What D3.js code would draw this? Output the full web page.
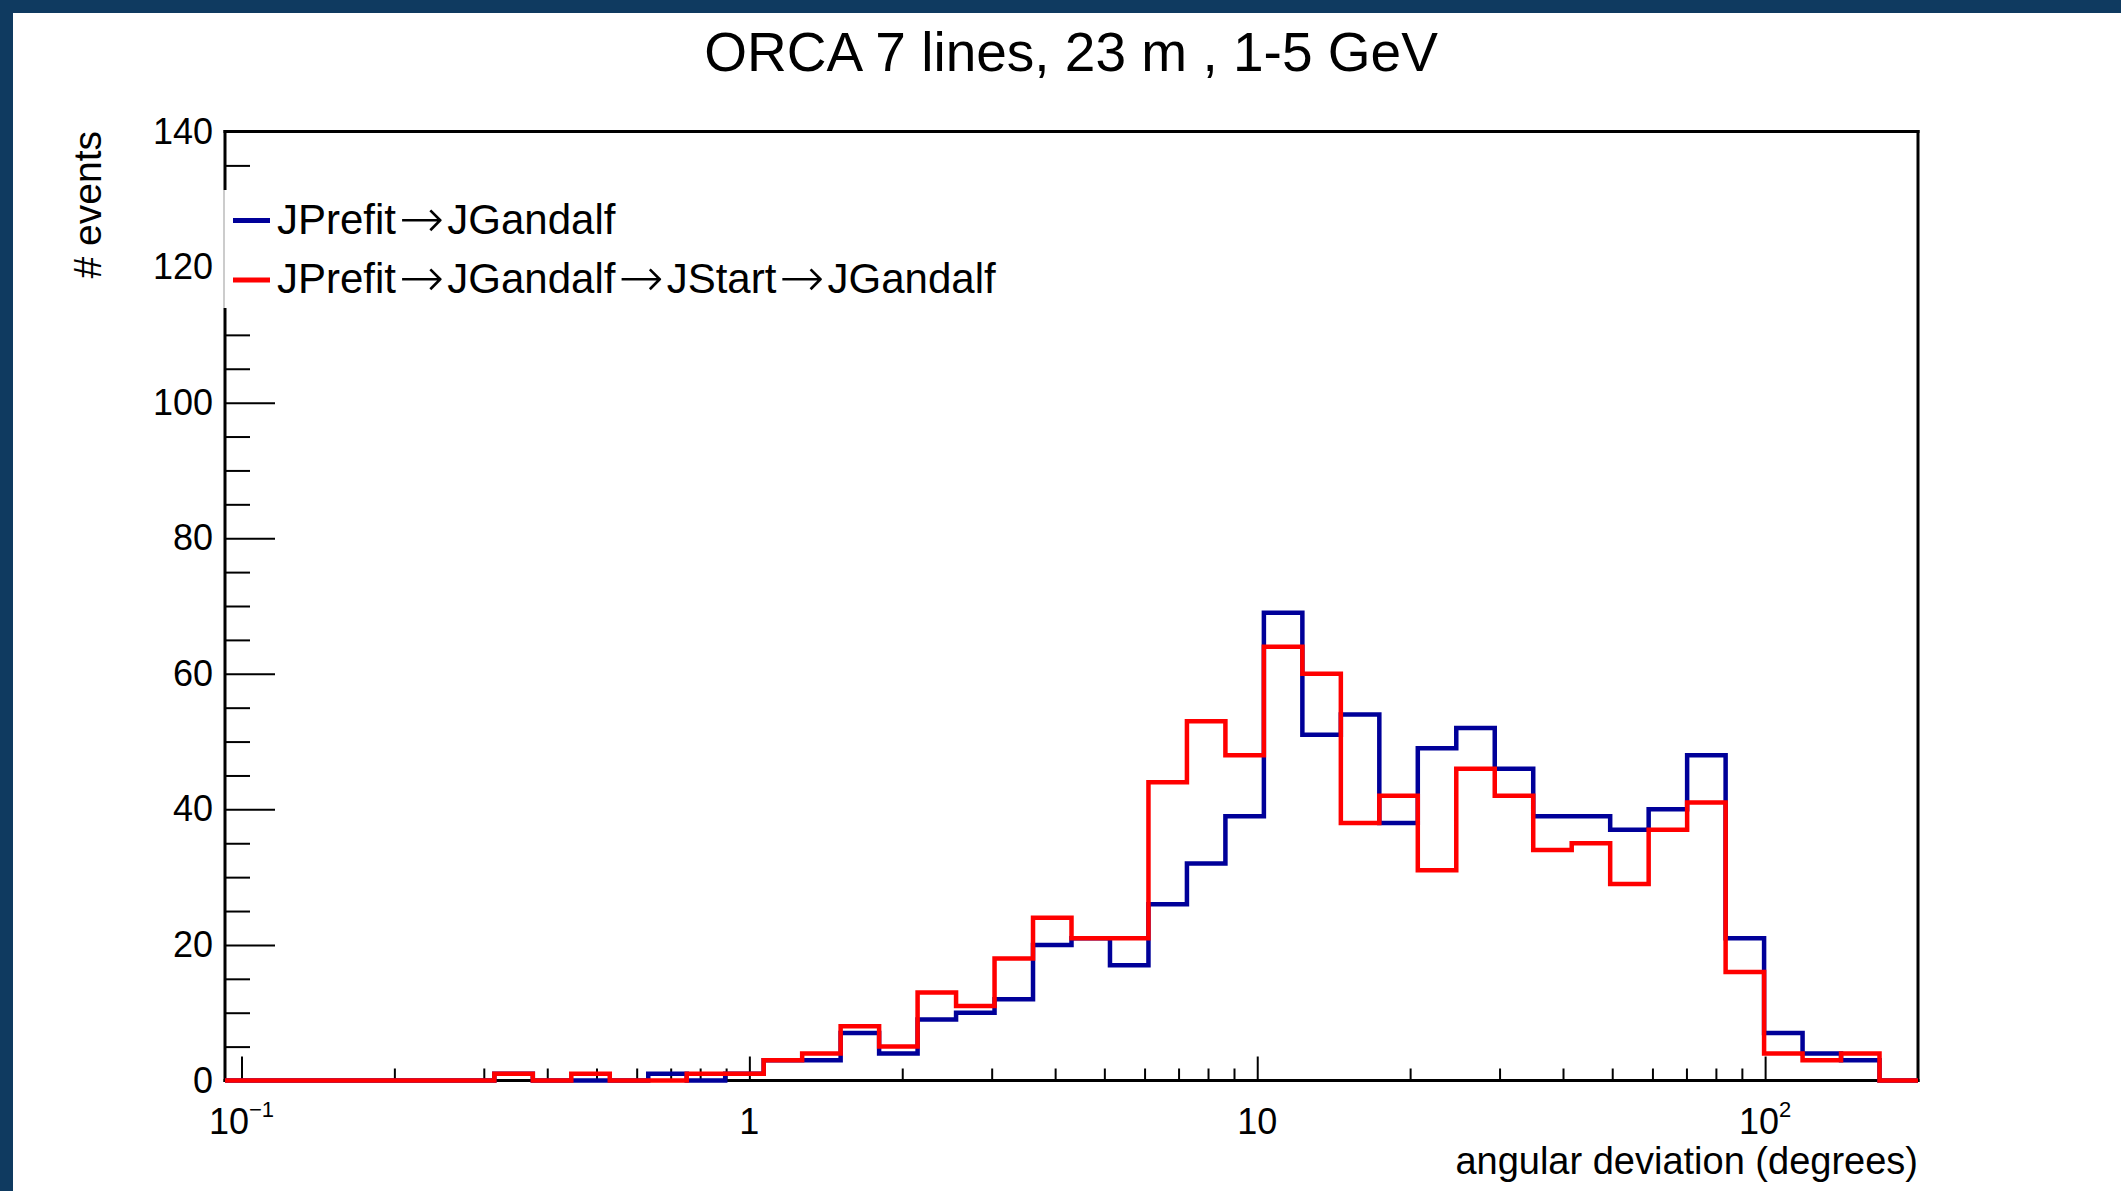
<!DOCTYPE html>
<html>
<head>
<meta charset="utf-8">
<script src="https://cdn.jsdelivr.net/npm/d3@7"></script>
<style>
  html, body { margin: 0; padding: 0; background: #0f3a60; }
  svg { display: block; }
  text { font-family: "Liberation Sans", Arial, Helvetica, sans-serif; fill: #000; }
</style>
</head>
<body>
<svg id="chart" width="2121" height="1191"></svg>
<script>
// histogram binning (log-uniform bins)
const binLo = 0.0928, binHi = 200, nBins = 44;

// bin contents
const prefitGandalf = [0, 0, 0, 0, 0, 0, 0, 1, 0, 0, 0, 1, 0, 1, 3, 3, 7, 4, 9, 10,
  12, 20, 21, 17, 26, 32, 39, 69, 51, 54, 38, 49, 52, 46, 39, 39, 37, 40, 48, 21,
  7, 4, 3, 0];
const prefitGandalfStart = [0, 0, 0, 0, 0, 0, 0, 1, 0, 1, 0, 0, 1, 1, 3, 4, 8, 5, 13, 11,
  18, 24, 21, 21, 44, 53, 48, 64, 60, 38, 42, 31, 46, 42, 34, 35, 29, 37, 41, 16,
  4, 3, 4, 0];

const seriesNames = ["JPrefit\u2192JGandalf", "JPrefit\u2192JGandalf\u2192JStart\u2192JGandalf"];
const seriesColors = ["#000099", "#ff0000"];

const xMajor = [0.1, 1, 10, 100];
const xMajorLabels = [["10", "\u22121"], ["1", ""], ["10", ""], ["10", "2"]];
const yMajor = [0, 20, 40, 60, 80, 100, 120, 140];

const svg = d3.select("#chart");
const W = 2121, H = 1191;
const mLeft = 225, mRight = 1918, mTop = 131.5, mBottom = 1080.5;

// white canvas inside the blue frame
svg.append("rect").attr("x", 13).attr("y", 13).attr("width", W - 13).attr("height", H - 13).attr("fill", "#fff");

const x = d3.scaleLog().domain([binLo, binHi]).range([mLeft, mRight]);
const y = d3.scaleLinear().domain([0, 140]).range([mBottom, mTop]);

const edges = d3.range(nBins + 1).map(i => Math.pow(10, Math.log10(binLo) + i * (Math.log10(binHi) - Math.log10(binLo)) / nBins));

// title
svg.append("text").attr("x", 1071).attr("y", 70.5).attr("text-anchor", "middle")
  .style("font-size", "55px").text("ORCA 7 lines, 23 m , 1-5 GeV");

// y axis minor + major ticks
const yMinor = d3.range(0, 141, 5).filter(v => v % 20 !== 0);
svg.append("g").attr("transform", `translate(${mLeft},0)`)
  .call(d3.axisLeft(y).tickValues(yMinor).tickSize(-25).tickFormat(""))
  .call(g => g.select(".domain").remove())
  .call(g => g.selectAll("line").attr("stroke", "#000").attr("stroke-width", 2));
svg.append("g").attr("transform", `translate(${mLeft},0)`)
  .call(d3.axisLeft(y).tickValues(yMajor).tickSize(-50).tickPadding(12))
  .call(g => g.select(".domain").remove())
  .call(g => g.selectAll("line").attr("stroke", "#000").attr("stroke-width", 2))
  .call(g => g.selectAll("text").style("font-size", "36px").attr("fill", "#000")
    .style("font-family", "'Liberation Sans', Arial, sans-serif"));

// x axis minor + major ticks
const xMinor = [];
[0.1, 1, 10, 100].forEach(d => { for (let k = 2; k <= 9; k++) { const v = d * k; if (v < binHi) xMinor.push(v); } });
svg.append("g").attr("transform", `translate(0,${mBottom})`)
  .call(d3.axisBottom(x).tickValues(xMinor).tickSize(-12).tickFormat(""))
  .call(g => g.select(".domain").remove())
  .call(g => g.selectAll("line").attr("stroke", "#000").attr("stroke-width", 2));
svg.append("g").attr("transform", `translate(0,${mBottom})`)
  .call(d3.axisBottom(x).tickValues(xMajor).tickSize(-24).tickFormat(""))
  .call(g => g.select(".domain").remove())
  .call(g => g.selectAll("line").attr("stroke", "#000").attr("stroke-width", 2));

// x tick labels with superscripts
const xl = svg.append("g").selectAll("text").data(xMajor).join("text")
  .attr("x", d => x(d)).attr("y", 1134).attr("text-anchor", "middle")
  .style("font-size", "36px");
xl.each(function(d, i) {
  const t = d3.select(this);
  const [base, sup] = xMajorLabels[i];
  t.append("tspan").text(base);
  if (sup) t.append("tspan").attr("dy", -17).style("font-size", "22px").text(sup);
});

// axis titles
svg.append("text").attr("x", mRight).attr("y", 1174).attr("text-anchor", "end")
  .style("font-size", "38px").text("angular deviation (degrees)");
svg.append("text").attr("transform", "translate(101,131) rotate(-90)").attr("text-anchor", "end")
  .style("font-size", "39px").text("# events");

// frame
const frame = [[mLeft, mTop, mRight, mTop], [mRight, mTop, mRight, mBottom],
  [mLeft, mTop, mLeft, mBottom], [mLeft, mBottom, mRight, mBottom]];
svg.append("g").selectAll("line").data(frame).join("line")
  .attr("x1", d => d[0]).attr("y1", d => d[1]).attr("x2", d => d[2]).attr("y2", d => d[3])
  .attr("stroke", "#000").attr("stroke-width", 3).attr("stroke-linecap", "square");

// histograms
const stepLine = d3.line().x(d => x(d[0])).y(d => y(d[1]));
function stepPoints(vals) {
  const pts = [];
  vals.forEach((v, i) => { pts.push([edges[i], v]); pts.push([edges[i + 1], v]); });
  return pts;
}
[prefitGandalf, prefitGandalfStart].forEach((vals, i) => {
  svg.append("path").attr("d", stepLine(stepPoints(vals)))
    .attr("fill", "none").attr("stroke", seriesColors[i]).attr("stroke-width", 4.5)
    .attr("stroke-linejoin", "miter");
});

// legend
const lg = svg.append("g");
lg.append("rect").attr("x", 223).attr("y", 190).attr("width", 790).attr("height", 118).attr("fill", "#fff");
lg.append("line").attr("x1", 224).attr("x2", 224).attr("y1", 190).attr("y2", 308)
  .attr("stroke", "#999").attr("stroke-width", 1);
const rows = lg.selectAll("g.row").data(seriesNames).join("g").attr("class", "row")
  .attr("transform", (d, i) => `translate(0,${[220.5, 280][i]})`);
rows.append("line").attr("x1", 233).attr("x2", 270).attr("y1", 0).attr("y2", 0)
  .attr("stroke", (d, i) => seriesColors[i]).attr("stroke-width", 5);
rows.append("text").attr("x", 277).attr("y", 13).style("font-size", "42px")
  .each(function(d) {
    const t = d3.select(this);
    d.split("\u2192").forEach((part, k) => {
      if (k > 0) t.append("tspan").style("font-family", "'DejaVu Sans', sans-serif")
        .style("font-size", "54px").style("font-weight", "200").attr("dx", 3).attr("dy", 3).text("\u2192");
      t.append("tspan").attr("dx", k > 0 ? 3 : 0).attr("dy", k > 0 ? -3 : 0).text(part);
    });
  });
</script>
</body>
</html>
